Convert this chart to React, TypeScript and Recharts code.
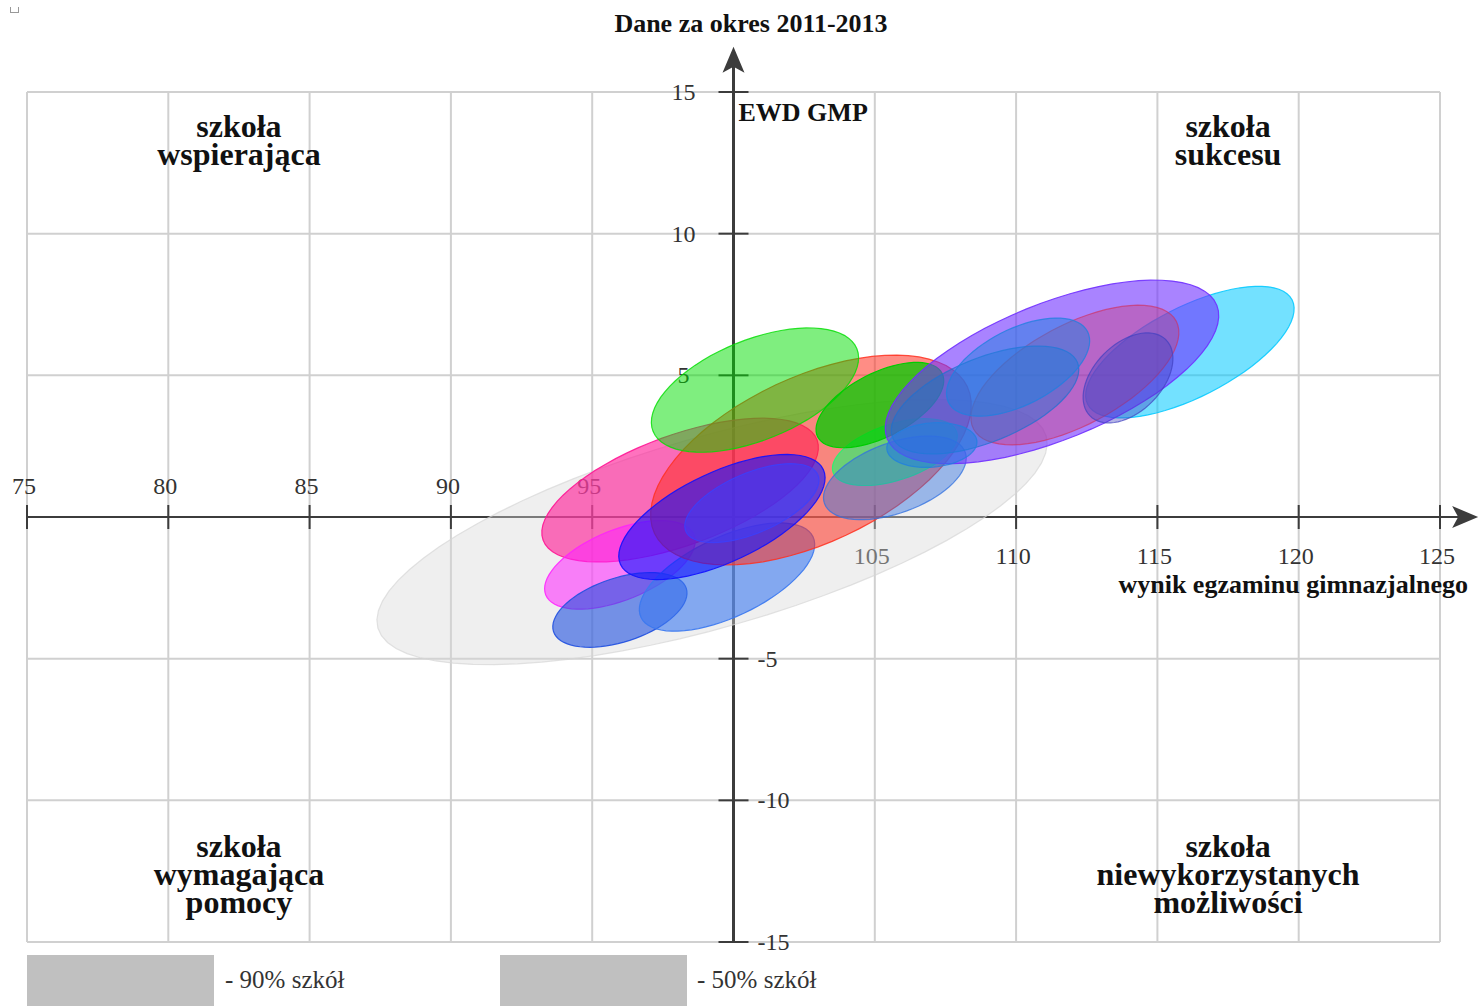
import React from "react";
import {
  CartesianGrid,
  ReferenceDot,
  ReferenceLine,
  Scatter,
  ScatterChart,
  XAxis,
  YAxis,
} from "recharts";

const SERIF = "'Liberation Serif', 'Times New Roman', serif";
const AXIS = "#3c3c3c";
const GRID = "#d0d0d0";

const xTicks = [75, 80, 85, 90, 95, 100, 105, 110, 115, 120, 125];
const yTicks = [-15, -10, -5, 0, 5, 10, 15];
const xTickLabels = [75, 80, 85, 90, 95, 105, 110, 115, 120, 125];
const yTickLabels = [15, 10, 5, -5, -10, -15];

// ellipse parameters: centre, half axes (data units), tilt in degrees
const ellipseNames = [
  "gray90", "pink", "magenta", "blueLowLeft", "blueLowMid", "red", "greenTop",
  "blueBig", "blueInner", "mint", "steel", "green2", "cyan", "purple", "mauve",
  "blueB", "blueA", "blueC", "darkBlue",
];
const ellipseCx = [99.24, 98.11, 95.98, 95.98, 99.77, 102.74, 100.76, 99.59, 100.65, 105.71, 105.71, 105.18, 116.15, 111.27, 112.08, 108.9, 110.07, 107.02, 113.96];
const ellipseCy = [-0.53, 0.95, -1.69, -3.28, -2.12, 2.01, 4.48, 0.0, 0.49, 2.29, 1.38, 3.95, 5.82, 5.12, 5.01, 4.13, 5.29, 2.54, 4.91];
const ellipseA = [12.3, 5.16, 2.83, 2.47, 3.36, 6.11, 3.89, 3.96, 2.54, 2.3, 2.65, 2.47, 4.06, 6.29, 4.06, 3.53, 2.76, 1.6, 1.9];
const ellipseB = [3.36, 1.94, 1.24, 1.13, 1.41, 2.93, 1.77, 1.59, 1.06, 0.99, 1.24, 1.13, 1.59, 2.4, 1.77, 1.48, 1.34, 0.78, 1.2];
const ellipseAngle = [16, 20, 22, 18, 25, 25, 22, 25, 23, 18, 20, 27, 27, 22, 28, 22, 27, 5, 45];
const ellipseColor = [
  "#d6d6d6", "#ff1493", "#ff20ff", "#2050e0", "#3a78f0", "#ff3020", "#00dd00",
  "#1010ff", "#3a40ff", "#30f070", "#3070e0", "#00cc00", "#00c8ff", "#7030ff", "#d03060",
  "#2070d0", "#2080e0", "#2080e0", "#4040c0",
];
const ellipseOpacity = [0.4, 0.6, 0.55, 0.6, 0.6, 0.55, 0.5, 0.6, 0.5, 0.7, 0.45, 0.75, 0.55, 0.6, 0.35, 0.45, 0.5, 0.5, 0.4];

const quadrantLabels = [
  { x: 82.5, y: 13.77, lines: ["szkoła", "wspierająca"] },
  { x: 117.5, y: 13.77, lines: ["szkoła", "sukcesu"] },
  { x: 82.5, y: -11.65, lines: ["szkoła", "wymagająca", "pomocy"] },
  { x: 117.5, y: -11.65, lines: ["szkoła", "niewykorzystanych", "możliwości"] },
];

const axisLabels = [
  { x: 100, y: 14.3, text: "EWD GMP", anchor: "start", dx: 5 },
  { x: 125, y: -2.37, text: "wynik egzaminu gimnazjalnego", anchor: "end", dx: 28 },
];

function ellipseOutline(i: number) {
  const th = (ellipseAngle[i] * Math.PI) / 180;
  const pts = [];
  for (let k = 0; k < 72; k++) {
    const t = (k / 72) * Math.PI * 2;
    pts.push({
      x: ellipseCx[i] + ellipseA[i] * Math.cos(t) * Math.cos(th) - ellipseB[i] * Math.sin(t) * Math.sin(th),
      y: ellipseCy[i] + ellipseA[i] * Math.cos(t) * Math.sin(th) + ellipseB[i] * Math.sin(t) * Math.cos(th),
    });
  }
  return pts;
}

const noDot = () => <g />;

function XTick(props: any) {
  const { cx, cy, payload } = props;
  const below = payload.x > 100;
  return (
    <g>
      <line x1={cx} x2={cx} y1={cy - 12} y2={cy + 12} stroke={AXIS} strokeWidth={2} />
      <text x={cx - 3} y={below ? cy + 47 : cy - 23} textAnchor="middle" fontFamily={SERIF} fontSize={24} fill="#333">
        {payload.x}
      </text>
    </g>
  );
}

function YTick(props: any) {
  const { cx, cy, payload } = props;
  const pos = payload.y > 0;
  return (
    <g>
      <line x1={cx - 15} x2={cx + 15} y1={cy} y2={cy} stroke={AXIS} strokeWidth={2} />
      <text x={pos ? cx - 50 : cx + 24} y={cy + 8} textAnchor={pos ? "middle" : "start"} fontFamily={SERIF} fontSize={24} fill="#333">
        {payload.y}
      </text>
    </g>
  );
}

function QuadrantLabel(props: any) {
  const { cx, cy, payload } = props;
  return (
    <text x={cx} y={cy + 10} textAnchor="middle" fontFamily={SERIF} fontSize={32} fontWeight="bold" fill="#111">
      {payload.lines.map((l: string, i: number) => (
        <tspan key={i} x={cx} dy={i === 0 ? 0 : 28}>{l}</tspan>
      ))}
    </text>
  );
}

function AxisLabel(props: any) {
  const { cx, cy, payload } = props;
  return (
    <text x={cx + payload.dx} y={cy + 9} textAnchor={payload.anchor} fontFamily={SERIF} fontSize={26} fontWeight="bold" fill="#111">
      {payload.text}
    </text>
  );
}

const ArrowUp = (props: any) => {
  const { cx, cy } = props;
  return <path d={`M${cx},${cy} L${cx + 11},${cy + 26} L${cx},${cy + 20} L${cx - 11},${cy + 26} Z`} fill={AXIS} />;
};

const ArrowRight = (props: any) => {
  const { cx, cy } = props;
  return <path d={`M${cx},${cy} L${cx - 26},${cy - 11} L${cx - 20},${cy} L${cx - 26},${cy + 11} Z`} fill={AXIS} />;
};

export default function App() {
  const xTickData = xTickLabels.map((v) => ({ x: v, y: 0 }));
  const yTickData = yTickLabels.map((v) => ({ x: 100, y: v }));
  return (
    <div style={{ position: "absolute", left: 0, top: 0, width: 1480, height: 1006, background: "#fff", overflow: "hidden" }}>
      <div style={{ position: "absolute", left: 10, top: 7, width: 7, height: 5, borderLeft: "1px solid #999", borderRight: "1px solid #999", borderBottom: "1px solid #999" }} />
      <div style={{ position: "absolute", left: 0, top: 10, width: 1502, textAlign: "center", fontFamily: SERIF, fontWeight: "bold", fontSize: 26, lineHeight: "28px", color: "#111" }}>
        Dane za okres 2011-2013
      </div>
      <ScatterChart width={1480} height={1006} margin={{ top: 92, right: 40, bottom: 64, left: 27 }}>
        <CartesianGrid stroke={GRID} strokeWidth={2} />
        <XAxis type="number" dataKey="x" domain={[75, 125]} ticks={xTicks} hide />
        <YAxis type="number" dataKey="y" domain={[-15, 15]} ticks={yTicks} hide />
        <ReferenceLine segment={[{ x: 75, y: 0 }, { x: 126, y: 0 }]} stroke={AXIS} strokeWidth={2} ifOverflow="visible" />
        <ReferenceLine segment={[{ x: 100, y: -15 }, { x: 100, y: 16.3 }]} stroke={AXIS} strokeWidth={3} ifOverflow="visible" />
        <ReferenceDot x={100} y={16.6} ifOverflow="visible" shape={ArrowUp} />
        <ReferenceDot x={126.35} y={0} ifOverflow="visible" shape={ArrowRight} />
        <Scatter data={xTickData} shape={XTick} isAnimationActive={false} />
        <Scatter data={yTickData} shape={YTick} isAnimationActive={false} />
        {ellipseNames.map((name, i) => (
          <Scatter
            key={name}
            name={name}
            data={ellipseOutline(i)}
            shape={noDot}
            line={{
              fill: ellipseColor[i],
              fillOpacity: ellipseOpacity[i],
              stroke: ellipseColor[i],
              strokeOpacity: Math.min(1, ellipseOpacity[i] + 0.3),
              strokeWidth: 1.2,
            }}
            lineType="joint"
            lineJointType="linearClosed"
            isAnimationActive={false}
          />
        ))}
        <Scatter data={quadrantLabels} shape={QuadrantLabel} isAnimationActive={false} />
        <Scatter data={axisLabels} shape={AxisLabel} isAnimationActive={false} />
      </ScatterChart>
      <div style={{ position: "absolute", left: 27, top: 955, width: 187, height: 51, background: "#c0c0c0" }} />
      <div style={{ position: "absolute", left: 225, top: 966, fontFamily: SERIF, fontSize: 25, lineHeight: "28px", color: "#333" }}>- 90% szkół</div>
      <div style={{ position: "absolute", left: 500, top: 955, width: 187, height: 51, background: "#c0c0c0" }} />
      <div style={{ position: "absolute", left: 697, top: 966, fontFamily: SERIF, fontSize: 25, lineHeight: "28px", color: "#333" }}>- 50% szkół</div>
    </div>
  );
}
